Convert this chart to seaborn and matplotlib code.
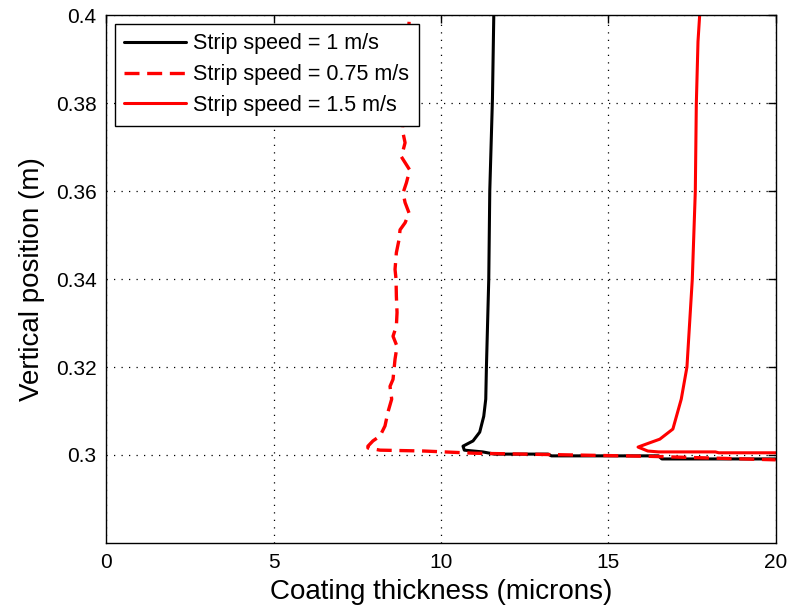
import numpy as np
import pandas as pd
import seaborn as sns
import matplotlib
matplotlib.use("Agg")
import matplotlib.pyplot as plt
from matplotlib.ticker import FuncFormatter

# Dados: espessura (microns) x posição vertical (m)
esp_1 = [11.58, 11.54, 11.46, 11.43, 11.36, 11.34, 11.28, 11.16, 10.96, 10.66,
         10.70, 11.25, 11.6, 13.2, 13.3, 16.5, 16.6, 20.0]
pos_1 = [0.400, 0.381, 0.360, 0.340, 0.320, 0.3127, 0.3088, 0.3052, 0.3032, 0.3020,
         0.3011, 0.3007, 0.3002, 0.3002, 0.2998, 0.2998, 0.2991, 0.2991]

esp_075 = [9.05, 8.85, 8.93, 8.82, 9.07, 8.97, 8.87, 8.93, 9.05, 8.93, 8.78, 8.75,
           8.67, 8.63, 8.66, 8.67, 8.69, 8.67, 8.57, 8.69, 8.63, 8.57, 8.48, 8.53,
           8.42, 8.33, 8.18, 7.97, 7.82, 7.82, 8.18, 9.5, 11.0, 16.2, 20.0]
pos_075 = [0.3985, 0.3739, 0.371, 0.3678, 0.3648, 0.3619, 0.3596, 0.3574, 0.355,
           0.3528, 0.3512, 0.349, 0.346, 0.3422, 0.340, 0.3361, 0.3324, 0.3293,
           0.327, 0.3247, 0.3218, 0.3172, 0.3156, 0.3127, 0.3098, 0.3066, 0.3043,
           0.3032, 0.3020, 0.3016, 0.3011, 0.3009, 0.3004, 0.2997, 0.2989]

esp_15 = [17.73, 17.68, 17.63, 17.60, 17.51, 17.35, 17.18, 16.93, 16.54, 16.14,
          15.89, 16.18, 16.5, 18.2, 18.3, 20.0]
pos_15 = [0.400, 0.394, 0.3798, 0.360, 0.340, 0.320, 0.3127, 0.3059, 0.3036, 0.3025,
          0.3018, 0.3009, 0.3007, 0.3007, 0.3005, 0.3005]

rotulos = ["Strip speed = 1 m/s", "Strip speed = 0.75 m/s", "Strip speed = 1.5 m/s"]

sns.set_style("white")
plt.rcParams['font.family'] = ['Liberation Sans', 'DejaVu Sans']
plt.rcParams['text.color'] = 'black'
plt.rcParams['axes.labelcolor'] = 'black'

fig = plt.figure(figsize=(7.98, 6.08), dpi=100)
ax = fig.add_axes([0.133, 0.107, 0.839, 0.868])

# estimator=None: sem agregação, desenha na ordem dos pontos
sns.lineplot(x=esp_1, y=pos_1, sort=False, estimator=None, color='black',
             lw=2.2, label=rotulos[0], ax=ax)
sns.lineplot(x=esp_075, y=pos_075, sort=False, estimator=None, color='red',
             lw=2.4, label=rotulos[1], ax=ax)
sns.lineplot(x=esp_15, y=pos_15, sort=False, estimator=None, color='red',
             lw=2.2, label=rotulos[2], ax=ax)
ax.lines[1].set_dashes((4.5, 2.3))

ax.set_xlim(0, 20)
ax.set_ylim(0.28, 0.4)
ax.set_xticks([0, 5, 10, 15, 20])
ax.set_yticks(np.arange(0.30, 0.401, 0.02))
ax.yaxis.set_major_formatter(FuncFormatter(lambda v, p: f"{v:g}"))
ax.grid(True, color='black', linestyle=(0, (1, 5)), linewidth=0.9)
ax.tick_params(direction='in', length=6, width=1, top=True, right=True,
               labelsize=15, colors='black', pad=7)
for s in ax.spines.values():
    s.set_color('black')
    s.set_linewidth(1)

ax.set_xlabel("Coating thickness (microns)", fontsize=20, labelpad=5, color='black')
ax.set_ylabel("Vertical position (m)", fontsize=20, labelpad=8, color='black')

leg = ax.legend(loc='upper left', fontsize=15.5, frameon=True, fancybox=False,
                edgecolor='black', framealpha=1, borderaxespad=0.4,
                handlelength=2.85, handletextpad=0.35, labelspacing=0.45,
                borderpad=0.45)
leg.get_frame().set_linewidth(1)
for t in leg.get_texts():
    t.set_color('black')

fig.savefig("out.png", dpi=100)
